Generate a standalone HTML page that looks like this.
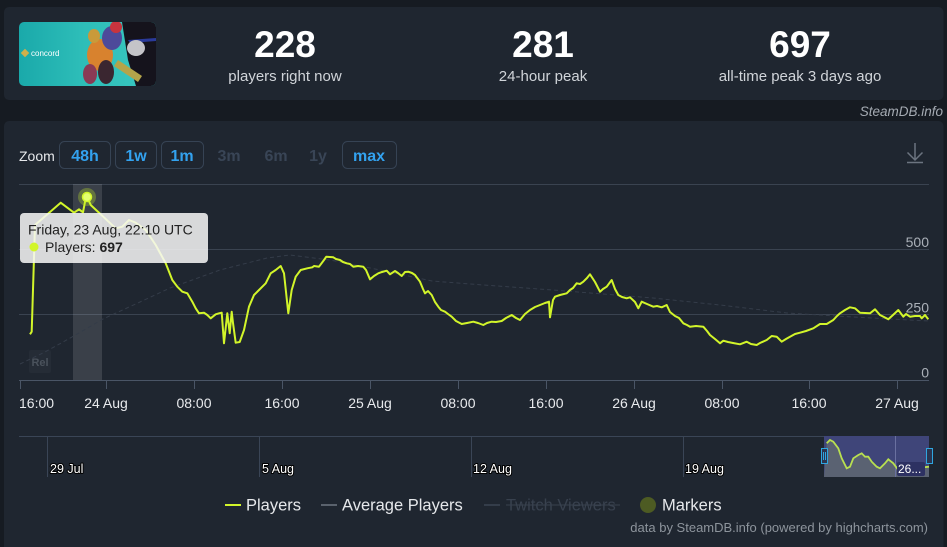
<!DOCTYPE html>
<html><head><meta charset="utf-8"><style>
html,body{margin:0;padding:0;background:#161b22;width:947px;height:547px;overflow:hidden;font-family:"Liberation Sans",sans-serif;}
svg{display:block}
</style></head><body>
<svg width="947" height="547" viewBox="0 0 947 547" xmlns="http://www.w3.org/2000/svg" font-family="Liberation Sans, sans-serif">
<defs>
<linearGradient id="teal" x1="0" y1="0" x2="1" y2="0">
<stop offset="0" stop-color="#1aa9aa"/><stop offset="0.45" stop-color="#2dbdb8"/><stop offset="1" stop-color="#3ac8c0"/>
</linearGradient>
<clipPath id="cap"><rect x="19" y="22" width="137" height="64" rx="5"/></clipPath>
</defs>
<rect x="0" y="0" width="947" height="547" fill="#161b22"/>
<!-- top card -->
<rect x="4" y="7" width="939.5" height="93" rx="5" fill="#1f2630"/>
<g clip-path="url(#cap)">
<rect x="19" y="22" width="137" height="64" fill="url(#teal)"/>
<polygon points="122,22 156,22 156,86 136,86 128,60" fill="#15131c"/>
<polygon points="128,40 156,38 156,41 130,43" fill="#2a3a9a"/>
<ellipse cx="100" cy="55" rx="13" ry="16" fill="#d8822e"/>
<ellipse cx="112" cy="38" rx="10" ry="12" fill="#4d4a9a"/>
<ellipse cx="116" cy="27" rx="6" ry="6" fill="#c8343e"/>
<ellipse cx="94" cy="36" rx="6" ry="7" fill="#c99a3a"/>
<ellipse cx="136" cy="48" rx="9" ry="8" fill="#c4c4c8"/>
<polygon points="118,60 142,76 138,82 114,66" fill="#b4a44a"/>
<ellipse cx="106" cy="72" rx="8" ry="12" fill="#3a2630"/>
<ellipse cx="90" cy="74" rx="7" ry="10" fill="#8a3a55"/>
<rect x="22" y="50" width="6" height="6" fill="#d0b04a" transform="rotate(45 25 53)"/>
<text x="31" y="56" font-size="8" fill="#ffffff">concord</text>
</g>
<text x="285" y="57" font-size="37" font-weight="bold" fill="#ffffff" text-anchor="middle">228</text>
<text x="285" y="81" font-size="15" fill="#d0d4d9" text-anchor="middle">players right now</text>
<text x="543" y="57" font-size="37" font-weight="bold" fill="#ffffff" text-anchor="middle">281</text>
<text x="543" y="81" font-size="15" fill="#d0d4d9" text-anchor="middle">24-hour peak</text>
<text x="800" y="57" font-size="37" font-weight="bold" fill="#ffffff" text-anchor="middle">697</text>
<text x="800" y="81" font-size="15" fill="#d0d4d9" text-anchor="middle">all-time peak 3 days ago</text>
<text x="943" y="116" font-size="13.5" font-style="italic" fill="#a5abb3" text-anchor="end">SteamDB.info</text>

<!-- chart card -->
<rect x="4" y="121" width="939.5" height="440" rx="5" fill="#1f2630"/>
<text x="19" y="161" font-size="14" fill="#e6e8eb">Zoom</text>
<g font-size="16" font-weight="bold" text-anchor="middle">
<rect x="59.5" y="141.5" width="51" height="27" rx="5" fill="none" stroke="#364354"/>
<text x="85" y="161" fill="#33a2ef">48h</text>
<rect x="115.5" y="141.5" width="41" height="27" rx="5" fill="none" stroke="#364354"/>
<text x="136" y="161" fill="#33a2ef">1w</text>
<rect x="161.5" y="141.5" width="42" height="27" rx="5" fill="none" stroke="#364354"/>
<text x="182" y="161" fill="#33a2ef">1m</text>
<text x="229" y="161" fill="#394556">3m</text>
<text x="276" y="161" fill="#394556">6m</text>
<text x="318" y="161" fill="#394556">1y</text>
<rect x="342.5" y="141.5" width="54" height="27" rx="5" fill="none" stroke="#364354"/>
<text x="369" y="161" fill="#33a2ef">max</text>
</g>
<g stroke="#6c7480" stroke-width="1.5" fill="none">
<line x1="915" y1="143" x2="915" y2="160"/>
<polyline points="907.5,152.5 915,160 922.5,152.5"/>
<line x1="907" y1="162.5" x2="923" y2="162.5"/>
</g>

<!-- grid -->
<g stroke="#3a4350" stroke-width="1">
<line x1="19" y1="184.5" x2="929" y2="184.5"/>
<line x1="19" y1="249.5" x2="929" y2="249.5"/>
<line x1="19" y1="314.5" x2="929" y2="314.5"/>
</g>
<line x1="19" y1="380.5" x2="929" y2="380.5" stroke="#4a5566"/>
<g stroke="#4a5566">
<line x1="20.5" y1="380" x2="20.5" y2="389"/>
<line x1="106.5" y1="380" x2="106.5" y2="389"/>
<line x1="194.5" y1="380" x2="194.5" y2="389"/>
<line x1="282.5" y1="380" x2="282.5" y2="389"/>
<line x1="370.5" y1="380" x2="370.5" y2="389"/>
<line x1="458.5" y1="380" x2="458.5" y2="389"/>
<line x1="546.5" y1="380" x2="546.5" y2="389"/>
<line x1="634.5" y1="380" x2="634.5" y2="389"/>
<line x1="722.5" y1="380" x2="722.5" y2="389"/>
<line x1="809.5" y1="380" x2="809.5" y2="389"/>
<line x1="897.5" y1="380" x2="897.5" y2="389"/>
</g>
<g font-size="14" fill="#aab0b8" text-anchor="end">
<text x="929" y="247">500</text>
<text x="929" y="312.5">250</text>
<text x="929" y="377.5">0</text>
</g>
<g font-size="14" fill="#e8eaed" text-anchor="middle">
<text x="19" y="408" text-anchor="start">16:00</text>
<text x="106" y="408">24 Aug</text>
<text x="194" y="408">08:00</text>
<text x="282" y="408">16:00</text>
<text x="370" y="408">25 Aug</text>
<text x="458" y="408">08:00</text>
<text x="546" y="408">16:00</text>
<text x="634" y="408">26 Aug</text>
<text x="722" y="408">08:00</text>
<text x="809" y="408">16:00</text>
<text x="897" y="408">27 Aug</text>
</g>

<!-- highlight band -->
<rect x="73" y="184" width="29" height="196" fill="rgba(255,255,255,0.12)"/>
<!-- Rel badge -->
<rect x="29" y="350" width="22" height="23" rx="2" fill="#252c36"/>
<text x="40" y="366" font-size="11" font-weight="bold" fill="#4a525c" text-anchor="middle">Rel</text>

<!-- average -->
<path d="M20,364 L45,352 L72,337 L103,319 L140,302 L170,288 L220,270 L267,258 L290,255 L330,260 L380,270 L432,281 L470,284 L553,290 L653,298 L720,305 L787,313 L853,317 L929,321" fill="none" stroke="#343c49" stroke-width="1" stroke-dasharray="4,3"/>

<!-- players -->
<path fill="none" stroke="#d2f52a" stroke-width="2" stroke-linejoin="round" d="M30,334.3 L31.7,331.7 L35,225 L60.7,202.7 L74,212.7 L79,209.3 L83,212.3 L85.7,198.3 L87.3,197.3 L90.7,205 L115.7,228.3 L122.3,226.7 L129,220 L135.7,222.7 L145.7,230 L155.7,245 L165.7,263.3 L172.3,280 L177.3,286.7 L182.3,291.7 L187.3,293.3 L192.3,301.7 L195.7,308.3 L199,313.3 L204,312.7 L207.3,315 L210.7,318.3 L215.7,314.3 L219,313.3 L221.7,312.7 L224,343.3 L227.3,313.3 L229.7,333.3 L231.7,311.7 L233,323 L235.7,342.7 L239.7,342 L244,330 L249,306.7 L254,295 L259,290 L265.7,283.3 L270.7,273.3 L275.7,270 L280.7,266 L284,273.3 L288.3,313.3 L291.7,290 L295.7,276.7 L300.7,270 L307.3,268.3 L312.3,267.3 L314,266 L319,266.7 L324,260 L326.3,256.7 L333.3,257.3 L336,259 L340,260 L343,262 L346.7,263.3 L350,264 L353.3,266.7 L358,266 L363.3,266.7 L366,270 L370,279.3 L374,276 L378.3,273.3 L382,272 L386.7,270.7 L390,274.3 L395,271 L398,273 L401.7,276 L405,272 L408.3,271.7 L412,273 L415,275 L420,281.7 L423,289 L425,293.3 L428,291 L431.7,295 L435,302 L438.3,306.7 L441,310 L445,311.7 L448,314 L451.7,316.7 L456,321 L461.7,324 L467,323 L473.3,321.7 L478,323 L483.3,325 L487,323 L491.7,321.7 L496,322 L501.7,321 L506,318 L511.7,315 L516,318 L520,320 L525,314 L530,310 L535,307 L540,305 L545,303 L549,301.7 L550,317.3 L553,300 L555,296.7 L560,295 L566.7,293.3 L570,290 L573,288 L576.7,283.3 L580,284 L583.3,281.7 L587,278 L590,274.3 L595,282 L600,291.7 L603,289 L606.7,286.7 L611.7,280 L615,289 L618.3,295 L622,297 L626.7,298.3 L630,297.3 L635,302 L638.3,308.3 L641.7,301.7 L647,304 L653.3,306.7 L657,306 L661.7,307.3 L666.7,305 L670,312 L675,316 L679,318 L683.3,323.3 L687,325 L690,326.7 L696,326 L703.3,326.7 L707,331 L710,335 L715,339 L720,343.3 L723.3,340.7 L728,342 L733,343 L740,344.3 L746.7,341.7 L751,344 L756.7,345 L760,343 L766.7,340 L771.7,336 L776.7,336.7 L781.7,341.7 L786,339 L790,336.7 L795,334 L800,332.7 L806,331 L813.3,328.3 L820,324 L826.7,324 L833.3,320 L837,316 L840,313.3 L845,310 L850,307.3 L855,308.3 L860,312.7 L865,313 L870,313.3 L875,309.3 L880,315 L884,317 L888.3,319.3 L893,315 L898.3,310 L903.3,316.7 L906,314 L910,316.7 L915,316 L920,316 L921.7,318.3 L925,315 L928.3,319.3"/>

<!-- peak marker -->
<circle cx="87" cy="197" r="9" fill="rgba(200,240,40,0.3)"/>
<circle cx="87" cy="197" r="4.5" fill="#e4ff70" stroke="#d2f52a" stroke-width="1.5"/>

<!-- tooltip -->
<rect x="20" y="213" width="188" height="50" rx="4" fill="rgba(247,247,247,0.86)"/>
<text x="28" y="234.5" font-size="14" fill="#222">Friday, 23 Aug, 22:10 UTC</text>
<circle cx="34" cy="247" r="4.5" fill="#d2f52a"/>
<text x="45" y="252" font-size="14" fill="#222">Players: <tspan font-weight="bold">697</tspan></text>

<!-- navigator -->
<line x1="19" y1="436.5" x2="929" y2="436.5" stroke="#3a4556"/>
<g stroke="#3a4556">
<line x1="47.5" y1="436" x2="47.5" y2="477"/>
<line x1="259.5" y1="436" x2="259.5" y2="477"/>
<line x1="471.5" y1="436" x2="471.5" y2="477"/>
<line x1="683.5" y1="436" x2="683.5" y2="477"/>
</g>
<rect x="824" y="436" width="105" height="41" fill="#3f4579"/>
<path d="M824,477 L826.7,443.3 L830,440 L833.3,441.7 L838.3,448.3 L841.7,458.3 L846.7,468.3 L850,466.7 L853.3,458.3 L858.3,455 L861.7,453.3 L865,456.7 L868.3,456.7 L871.7,461.7 L876.7,466.7 L880,468.3 L885,463.3 L888.3,459.3 L893.3,463.3 L898.3,470 L903.3,471.7 L915,471.7 L920,467.7 L929,466.7 L929,477 Z" fill="#5a6272"/>
<line x1="895.5" y1="436" x2="895.5" y2="477" stroke="#6a70a0"/>
<path d="M826.7,443.3 L830,440 L833.3,441.7 L838.3,448.3 L841.7,458.3 L846.7,468.3 L850,466.7 L853.3,458.3 L858.3,455 L861.7,453.3 L865,456.7 L868.3,456.7 L871.7,461.7 L876.7,466.7 L880,468.3 L885,463.3 L888.3,459.3 L893.3,463.3 L898.3,470 L903.3,471.7 L915,471.7 L920,467.7 L929,466.7" fill="none" stroke="#b9e050" stroke-width="1.8"/>
<rect x="821.5" y="448.5" width="6" height="15" fill="#2b3550" stroke="#2fa6e0"/>
<line x1="823.5" y1="452" x2="823.5" y2="460" stroke="#2fa6e0"/>
<line x1="825.5" y1="452" x2="825.5" y2="460" stroke="#2fa6e0"/>
<rect x="926.5" y="448.5" width="6" height="15" fill="#2b3550" stroke="#2fa6e0"/>
<rect x="897" y="462" width="28" height="14" rx="2" fill="#2d3162"/>
<g font-size="12.5" fill="#ffffff" stroke="#000" stroke-width="2" paint-order="stroke" stroke-linejoin="round">
<text x="50" y="473">29 Jul</text>
<text x="262" y="473">5 Aug</text>
<text x="473" y="473">12 Aug</text>
<text x="685" y="473">19 Aug</text>
</g>
<text x="898" y="473" font-size="12" fill="#ffffff">26...</text>

<!-- legend -->
<line x1="225" y1="505" x2="241" y2="505" stroke="#d2f52a" stroke-width="2"/>
<text x="246" y="510.5" font-size="16.5" fill="#e6e8eb">Players</text>
<line x1="321" y1="505" x2="337" y2="505" stroke="#5a626d" stroke-width="2"/>
<text x="342" y="510.5" font-size="16.5" fill="#e6e8eb">Average Players</text>
<line x1="484" y1="505" x2="500" y2="505" stroke="#343d4a" stroke-width="2"/>
<text x="506" y="510.5" font-size="16.5" fill="#38414e">Twitch Viewers</text>
<line x1="506" y1="505" x2="620" y2="505" stroke="#38414e" stroke-width="1"/>
<circle cx="648" cy="505" r="8" fill="#4d5b23"/>
<text x="662" y="510.5" font-size="16.5" fill="#e6e8eb">Markers</text>
<text x="928" y="532" font-size="13" fill="#8d949c" text-anchor="end">data by SteamDB.info (powered by highcharts.com)</text>
</svg>
</body></html>
